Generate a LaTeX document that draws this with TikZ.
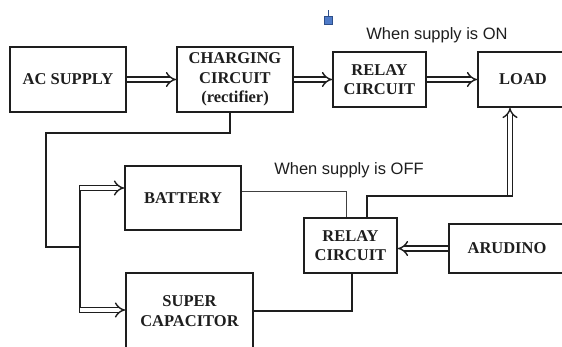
\documentclass[tikz,border=0pt]{standalone}
\usepackage{fontspec}
\setmainfont{Liberation Serif}
\newfontfamily\labelsans{Liberation Sans}
\usetikzlibrary{arrows.meta}
\definecolor{ink}{HTML}{1E1E1E}
\definecolor{markfill}{HTML}{4F7BC8}
\definecolor{markedge}{HTML}{2E4F8A}
\begin{document}
\begin{tikzpicture}[x=1pt,y=-1pt,
  blk/.style={draw=ink, line width=1.8pt, inner sep=0pt, align=center, text=ink,
    font=\fontsize{16.5}{19.5}\selectfont\bfseries},
  dbl/.style={draw=ink, double, double distance=3.8pt, line width=1.4pt, -{Implies[scale=1.25]}},
  wire/.style={draw=ink, line width=1.6pt},
  thinwire/.style={draw=black!75, line width=1pt},
  lbl/.style={font=\labelsans\fontsize{16.5}{19.5}\selectfont, inner sep=0pt, text=ink}]
\useasboundingbox (0,0) rectangle (562,347);
\clip (0,0) rectangle (562,347);

% blocks
\node[blk, minimum width=116pt, minimum height=65pt] (ac) at (68,79.5) {AC SUPPLY};
\node[blk, minimum width=116pt, minimum height=65pt] (chg) at (235,79.5) {CHARGING\\CIRCUIT\\(rectifier)};
\node[blk, minimum width=93pt, minimum height=55pt] (rel1) at (379.5,79.5) {RELAY\\CIRCUIT};
\node[blk, minimum width=90pt, minimum height=55pt] (load) at (523,79.5) {LOAD};
\node[blk, minimum width=116pt, minimum height=64pt] (bat) at (183,198) {BATTERY};
\node[blk, minimum width=127pt, minimum height=76pt] (sup) at (189.5,311) {SUPER\\CAPACITOR};
\node[blk, minimum width=93pt, minimum height=55pt] (rel2) at (350.5,245.5) {RELAY\\CIRCUIT};
\node[blk, minimum width=116pt, minimum height=49pt] (ard) at (507,248.5) {ARUDINO};

% labels
\node[lbl] (on) at (437,35) {When supply is ON};
\node[lbl] (off) at (349,170) {When supply is OFF};

% small blue marker
\node[draw=markedge, fill=markfill, line width=0.6pt, minimum size=8pt, inner sep=0pt] (mk) at (328,20.5) {};
\draw[markedge, line width=1pt] (mk.north) -- ++(0,-6);

% top row arrows
\draw[dbl] (ac.east) -- (chg.west);
\draw[dbl] (chg.east) -- (rel1.west);
\draw[dbl] (rel1.east) -- (load.west);

% relay 2 to load
\coordinate (ldj) at (510,196);
\coordinate (r2a) at (367,196);
\draw[dbl] (ldj) -- (ldj |- load.south);
\draw[wire] (rel2.north -| r2a) -- (r2a) -- ([xshift=3pt]ldj);

% arduino to relay 2
\draw[dbl] (ard.west) -- (ard.west -| rel2.east);

% left wiring from charging circuit
\coordinate (cj) at (230,133);
\coordinate (lj) at (46,247);
\coordinate (bj) at (80,188);
\coordinate (sj) at (80,310);
\draw[wire] (chg.south -| cj) -- (cj) -- (cj -| lj) -- (lj) -- (lj -| bj);
\draw[wire] ([yshift=3pt]bj) -- ([yshift=-3pt]sj);
\draw[dbl] (bj) -- (bj -| bat.west);
\draw[dbl] (sj) -- (sj -| sup.west);

% storage to relay 2
\coordinate (bk) at (346,192);
\coordinate (sk) at (352,311);
\draw[thinwire] (bk -| bat.east) -- (bk) -- (bk |- rel2.north);
\draw[wire] (sk -| sup.east) -- (sk) -- (sk |- rel2.south);
\end{tikzpicture}
\end{document}
